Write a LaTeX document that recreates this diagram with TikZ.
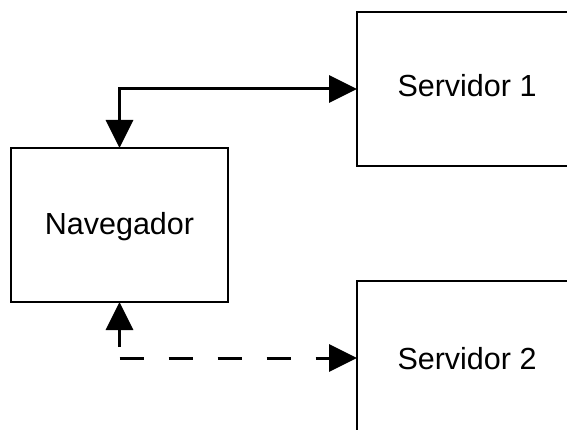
\documentclass[tikz,border=0pt]{standalone}
\usepackage{fontspec}
\setmainfont{Liberation Sans}
\usetikzlibrary{arrows.meta}
\tikzset{
  box/.style={draw=black, line width=1.5pt, outer sep=0pt, inner sep=0pt,
    font=\fontsize{30.5}{36}\selectfont, text=black},
  link/.style={line width=3pt, draw=black,
    arrows={Triangle[length=28pt,width=27pt]-Triangle[length=28pt,width=27pt]}},
  linkend/.style={line width=3pt, draw=black,
    -{Triangle[length=28pt,width=27pt]}},
}
\begin{document}
\begin{tikzpicture}[x=1pt,y=-1pt]
\useasboundingbox (0,0) rectangle (567,430);
\clip (0,0) rectangle (567,430);
\fill[white] (0,0) rectangle (567,430);
\node[box, minimum width=217pt, minimum height=154pt, text depth=4pt] (nav) at (119.5,225) {Navegador};
\node[box, minimum width=220pt, minimum height=154pt, text depth=8pt] (srv1) at (467,89) {Servidor 1};
\node[box, minimum width=220pt, minimum height=154pt, text depth=0pt] (srv2) at (467,358) {Servidor 2};
\draw[link] (nav.north) |- (srv1.west);
\coordinate (corner) at (nav.south |- srv2.west);
\draw[linkend, dash pattern=on 0pt off 11pt on 60pt] (corner) -- (nav.south);
\draw[linkend, dash pattern=on 24pt off 25pt] (corner) -- (srv2.west);
\end{tikzpicture}
\end{document}
